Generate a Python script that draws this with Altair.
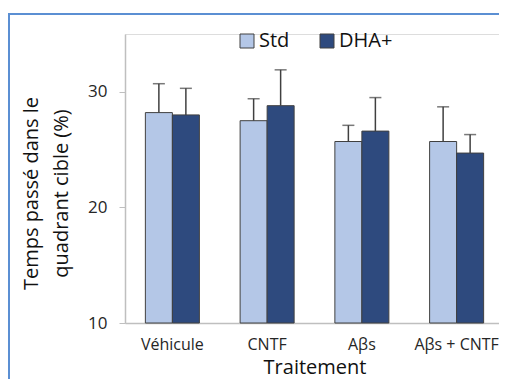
import altair as alt
import pandas as pd

categories = ["Véhicule", "CNTF", "Aβs", "Aβs + CNTF"]
series = ["Std", "DHA+"]
std_values = [28.2, 27.5, 25.7, 25.7]
std_errors = [2.5, 1.9, 1.4, 3.0]
dha_values = [28.0, 28.8, 26.6, 24.7]
dha_errors = [2.3, 3.1, 2.9, 1.6]
y_ticks = [10, 20, 30]
colors = ["#b4c7e7", "#2e4a7e"]

rows = []
for c, v, e in zip(categories, std_values, std_errors):
    rows.append({"cat": c, "serie": "Std", "val": v, "top": v + e})
for c, v, e in zip(categories, dha_values, dha_errors):
    rows.append({"cat": c, "serie": "DHA+", "val": v, "top": v + e})
df = pd.DataFrame(rows)

FONT = "Open Sans"
W, H = 379, 289

x_enc = alt.X("cat:N", sort=categories,
              scale=alt.Scale(paddingInner=0.43, paddingOuter=0.215),
              axis=alt.Axis(title="Traitement", labelAngle=0, ticks=False,
                            domainColor="#bfbfbf", domainWidth=1.5,
                            labelFontSize=16, labelColor="#262626",
                            labelPadding=13,
                            titleFontSize=20, titleColor="#111111",
                            titleFontWeight="normal",
                            titleBaseline="alphabetic", titleY=50))
xo = alt.XOffset("serie:N", sort=series, scale=alt.Scale(paddingInner=0, paddingOuter=0))
y_scale = alt.Scale(domain=[10, 35], nice=False, zero=False)

bars = alt.Chart(df).mark_bar(stroke="#404040", strokeWidth=1).encode(
    x=x_enc,
    xOffset=xo,
    y=alt.Y("val:Q", scale=y_scale,
            axis=alt.Axis(values=y_ticks, grid=False, domainColor="#bfbfbf",
                          domainWidth=1.5, tickColor="#bfbfbf", tickSize=6,
                          labelFontSize=17, labelColor="#262626", labelPadding=12,
                          title=["Temps passé dans le", "quadrant cible (%)"],
                          titleFontSize=20, titleColor="#111111",
                          titleFontWeight="normal", titleLineHeight=30,
                          titleX=-88, titleY=159, titleBaseline="alphabetic")),
    y2=alt.datum(10),
    color=alt.Color("serie:N", sort=series,
                    scale=alt.Scale(domain=series, range=colors),
                    legend=alt.Legend(title=None, orient="none", legendX=112,
                                      legendY=-3, direction="horizontal",
                                      symbolType="square", symbolSize=196,
                                      symbolStrokeColor="#404040",
                                      symbolStrokeWidth=1, labelFontSize=20,
                                      labelColor="#111111", labelOffset=2,
                                      columnPadding=27)),
)

rules = alt.Chart(df).mark_rule(color="#404040", strokeWidth=1.5).encode(
    x=alt.X("cat:N", sort=categories),
    xOffset=xo,
    y=alt.Y("val:Q", scale=y_scale),
    y2="top:Q",
)

caps = alt.Chart(df).mark_tick(color="#404040", thickness=1.5, size=12,
                               orient="horizontal").encode(
    x=alt.X("cat:N", sort=categories),
    xOffset=xo,
    y=alt.Y("top:Q", scale=y_scale),
)

frame = alt.Chart(pd.DataFrame({"f": [0]})).mark_rect(
    fill=None, stroke="#5b8fd3", strokeWidth=2).encode(
    x=alt.value(-116), x2=alt.value(400),
    y=alt.value(-20), y2=alt.value(380),
)

chart = alt.layer(frame, bars, rules, caps).properties(
    width=W, height=H,
    autosize=alt.AutoSizeParams(type="none"),
    padding={"left": 117, "top": 26, "right": -5, "bottom": 56},
).configure_view(strokeWidth=0).configure(font=FONT)

chart.save("out.html", embed_options={"renderer": "svg", "actions": False})
